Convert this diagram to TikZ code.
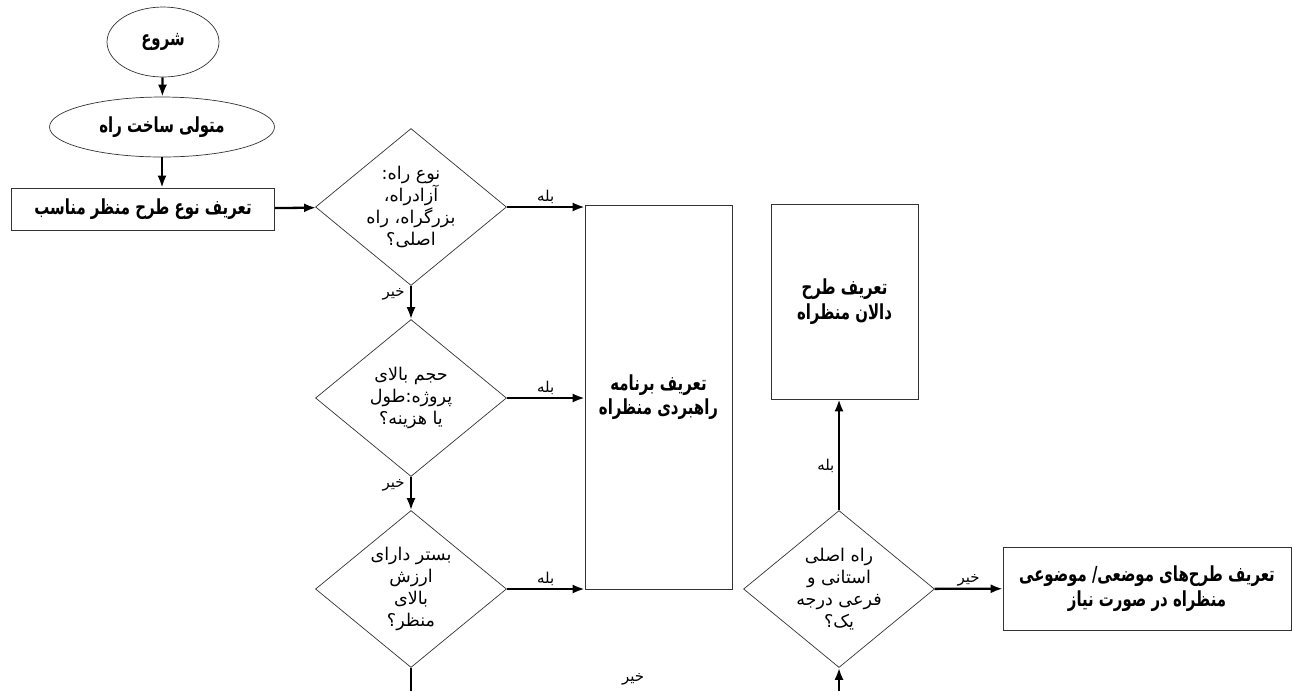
\documentclass[tikz,border=0pt]{standalone}
\usepackage{fontspec}
\setmainfont{DejaVu Sans}
\newfontfamily\arabicfont[Script=Arabic]{DejaVu Sans}
\newfontfamily\arabichead[Script=Arabic,FakeStretch=0.72]{DejaVu Sans}
\TeXXeTstate=1
\usetikzlibrary{shapes.geometric,arrows.meta}
\newcommand{\fa}[1]{\beginR #1\endR}
\begin{document}
\begin{tikzpicture}[x=0.02cm,y=-0.02cm,
    box/.style={draw=black!80,thin,font=\arabichead\bfseries\fontsize{11.8}{14}\selectfont,align=center,inner sep=0pt},
    oval/.style={box,ellipse},
    ask/.style={draw=black!80,thin,diamond,aspect=1.2,inner sep=0pt,font=\arabicfont\fontsize{10}{12.5}\selectfont,align=center,minimum width=3.82cm,minimum height=3.14cm},
    link/.style={line width=1.3pt,-{Latex[length=2.4mm,width=1.8mm]}},
    tag/.style={font=\arabicfont\fontsize{8.5}{10}\selectfont,inner sep=1pt}]
    \useasboundingbox (0,0) rectangle (1293,691);
    \node[oval,minimum width=2.24cm,minimum height=1.4cm] (start) at (163,42) {\fa{شروع}};
    \node[oval,minimum width=4.5cm,minimum height=1.2cm] (owner) at (162,127) {\fa{متولی ساخت راه}};
    \node[box,minimum width=5.26cm,minimum height=0.84cm] (kind) at (143,209) {\fa{تعریف نوع طرح منظر مناسب}};
    \node[ask] (q1) at (411,207) {\fa{نوع راه:}\\\fa{آزادراه،}\\\fa{بزرگراه، راه}\\\fa{اصلی؟}};
    \node[ask] (q2) at (411,398) {\fa{حجم بالای}\\\fa{پروژه:طول}\\\fa{یا هزینه؟}};
    \node[ask] (q3) at (411,589) {\fa{بستر دارای}\\\fa{ارزش}\\\fa{بالای}\\\fa{منظر؟}};
    \node[ask] (q4) at (839,589) {\fa{راه اصلی}\\\fa{استانی و}\\\fa{فرعی درجه}\\\fa{یک؟}};
    \node[box,minimum width=2.94cm,minimum height=7.68cm] (plan) at (658.5,397) {\fa{تعریف برنامه}\\\fa{راهبردی منظراه}};
    \node[box,minimum width=2.94cm,minimum height=3.9cm] (hall) at (844.5,301.5) {\fa{تعریف طرح}\\\fa{دالان منظراه}};
    \node[box,minimum width=5.76cm,minimum height=1.66cm] (local) at (1147,588.5) {\fa{تعریف طرح‌های موضعی/ موضوعی}\\\fa{منظراه در صورت نیاز}};
    \coordinate (out) at (411,691);
    \coordinate (in) at (839,691);
    \draw[link] (start) -- (owner);
    \draw[link] (owner.south) -- (owner.south |- kind.north);
    \draw[link] (kind) -- (q1);
    \draw[link] (q1.east) -- (q1.east -| plan.west) node[tag,midway,above] {\fa{بله}};
    \draw[link] (q2.east) -- (q2.east -| plan.west) node[tag,midway,above] {\fa{بله}};
    \draw[link] (q3.east) -- (q3.east -| plan.west) node[tag,midway,above] {\fa{بله}};
    \draw[link] (q1) -- (q2) node[tag,near start,left=2pt] {\fa{خیر}};
    \draw[link] (q2) -- (q3) node[tag,near start,left=2pt] {\fa{خیر}};
    \draw[line width=1.3pt] (q3) -- (out);
    \node[tag] at (633,679) {\fa{خیر}};
    \draw[link] (in) -- (q4);
    \draw[link] (q4.north) -- (q4.north |- hall.south) node[tag,pos=0.4,left=1pt] {\fa{بله}};
    \draw[link] (q4) -- (local) node[tag,midway,above] {\fa{خیر}};
\end{tikzpicture}
\end{document}
